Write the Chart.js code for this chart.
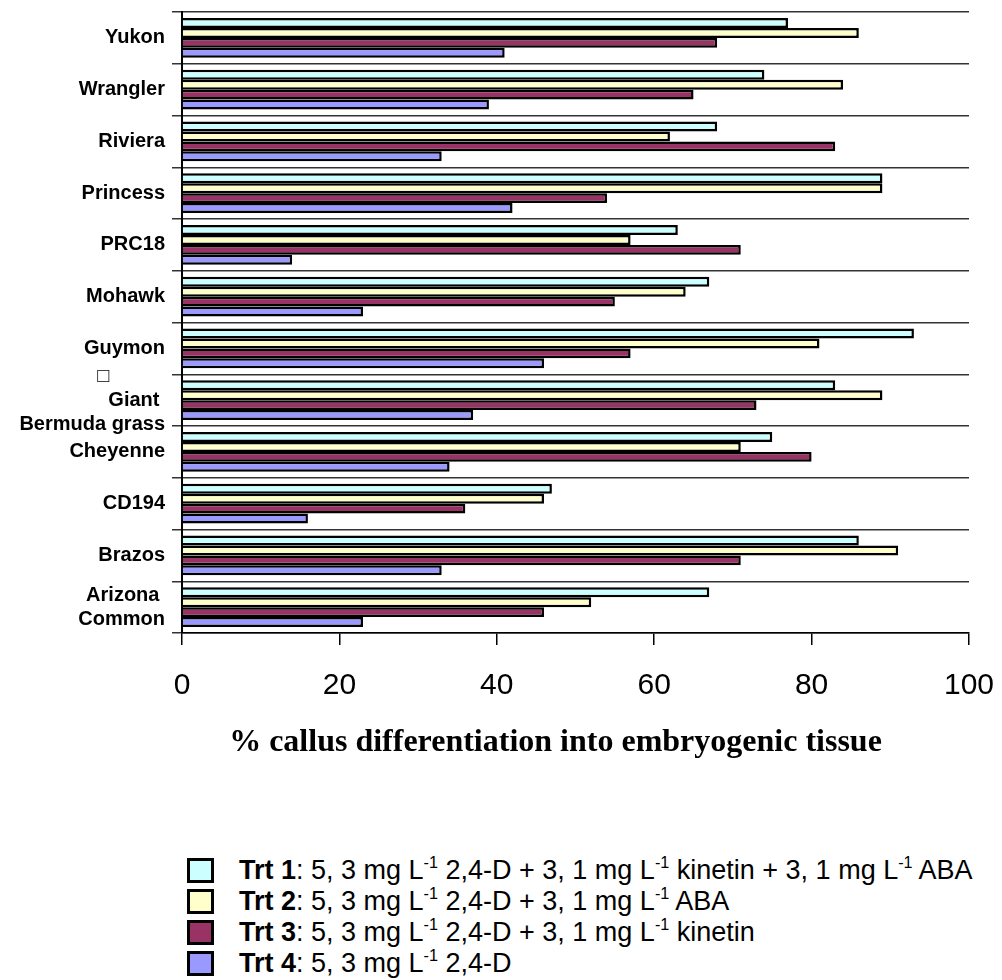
<!DOCTYPE html>
<html>
<head>
<meta charset="utf-8">
<script src="https://cdn.jsdelivr.net/npm/chart.js@4"></script>
<style>
  body { margin: 0; background: #fff; width: 1002px; height: 980px; overflow: hidden; }
  #wrap { position: relative; width: 1002px; height: 762px; }
  #legend {
    position: absolute; left: 187px; top: 855px;
    font-family: "Liberation Sans", Arial, sans-serif; font-size: 27px; color: #000;
  }
  .row { display: flex; align-items: center; height: 31px; white-space: nowrap; }
  .box { width: 27px; height: 25px; box-sizing: border-box; border: 3px solid #000; margin-right: 25px; }
  sup { font-size: 0.6em; vertical-align: 0; position: relative; top: -0.7em; }
</style>
</head>
<body>
<div id="wrap"><canvas id="chart"></canvas></div>
<div id="legend"></div>

<script>
const cultivars = [
  "Yukon", "Wrangler", "Riviera", "Princess", "PRC18", "Mohawk", "Guymon",
  ["\u25A1          ", "Giant ", "Bermuda grass"],
  "Cheyenne", "CD194", "Brazos", ["Arizona ", "Common"]
];

const trt1 = [77, 74, 68, 89, 63, 67, 93, 83, 75, 47, 86, 67];
const trt2 = [86, 84, 62, 89, 57, 64, 81, 89, 71, 46, 91, 52];
const trt3 = [68, 65, 83, 54, 71, 55, 57, 73, 80, 36, 71, 46];
const trt4 = [41, 39, 33, 42, 14, 23, 46, 37, 34, 16, 33, 23];

const seriesNames = ["Trt 1", "Trt 2", "Trt 3", "Trt 4"];
const seriesText = [
  ": 5, 3 mg L<sup>-1</sup> 2,4-D + 3, 1 mg L<sup>-1</sup> kinetin + 3, 1 mg L<sup>-1</sup> ABA",
  ": 5, 3 mg L<sup>-1</sup> 2,4-D + 3, 1 mg L<sup>-1</sup> ABA",
  ": 5, 3 mg L<sup>-1</sup> 2,4-D + 3, 1 mg L<sup>-1</sup> kinetin",
  ": 5, 3 mg L<sup>-1</sup> 2,4-D"
];
const xTicks = [0, 20, 40, 60, 80, 100];
const xTitle = "% callus differentiation into embryogenic tissue     ";

const colors = ["#CCFFFF", "#FFFFCC", "#993366", "#9999FF"];
const sans = "'Liberation Sans', Arial, sans-serif";

const values = [trt1, trt2, trt3, trt4];

const ctx = document.getElementById("chart").getContext("2d");
new Chart(ctx, {
  type: "bar",
  data: {
    labels: cultivars,
    datasets: values.map((v, i) => ({
      label: seriesNames[i],
      data: v,
      backgroundColor: colors[i],
      borderColor: "#000",
      borderWidth: 2.5,
      categoryPercentage: 0.77,
      barPercentage: 1.0
    }))
  },
  options: {
    indexAxis: "y",
    responsive: true,
    maintainAspectRatio: false,
    animation: false,
    layout: { padding: { top: 12, right: 33, left: 0, bottom: 0 } },
    plugins: {
      legend: { display: false },
      tooltip: { enabled: false }
    },
    scales: {
      x: {
        min: 0,
        max: 100,
        afterBuildTicks: s => { s.ticks = xTicks.map(v => ({ value: v })); },
        ticks: { color: "#000", font: { family: sans, size: 30 }, padding: 23 },
        grid: { drawOnChartArea: false, color: "#000", lineWidth: 1.5, tickLength: 12 },
        border: { color: "#000", width: 1.5 },
        title: {
          display: true,
          text: xTitle,
          color: "#000",
          font: { family: "'Liberation Serif', 'Times New Roman', serif", size: 32, weight: "bold" },
          padding: 0
        },
        afterFit: s => {
          s.height = 129;
          s.paddingLeft = 0;
          s.paddingRight = 0;
        }
      },
      y: {
        grid: { offset: true, color: "#333", lineWidth: 1.5, tickLength: 10 },
        border: { color: "#000", width: 2 },
        ticks: {
          color: "#000",
          autoSkip: false,
          padding: 7,
          font: { family: sans, size: 20, weight: "bold" }
        },
        afterFit: s => {
          s.width = 182;
          s.paddingTop = 0;
          s.paddingBottom = 0;
        }
      }
    }
  }
});

const legend = document.getElementById("legend");
seriesNames.forEach((name, i) => {
  const row = document.createElement("div");
  row.className = "row";
  row.innerHTML = `<span class="box" style="background:${colors[i]}"></span><span><b>${name}</b>${seriesText[i]}</span>`;
  legend.appendChild(row);
});
</script>
</body>
</html>
